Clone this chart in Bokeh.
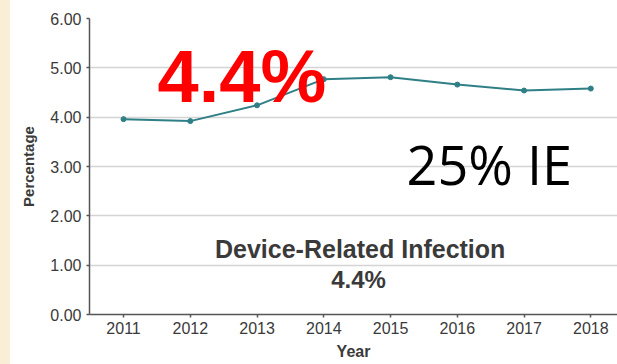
from bokeh.plotting import figure
from bokeh.models import Label, FixedTicker, NumeralTickFormatter, Range1d, Div
from bokeh.layouts import row
from bokeh.embed import file_html
from bokeh.resources import INLINE

years = [2011, 2012, 2013, 2014, 2015, 2016, 2017, 2018]
percentage = [3.96, 3.92, 4.24, 4.77, 4.81, 4.66, 4.54, 4.58]
y_ticks = [0, 1, 2, 3, 4, 5, 6]
big_label = "4.4%"
side_label = "25% IE"
title_text = "Device-Related Infection"
title_value = "4.4%"

TEAL = "#2f7f86"
AX = "#555555"
TXT = "#3a3a3a"
FONT = "Liberation Sans"

p = figure(width=607, height=364, output_backend="svg", toolbar_location=None,
           x_range=Range1d(2010.49, 2018.40), y_range=Range1d(0, 6),
           min_border_left=79, min_border_right=0, min_border_top=18, min_border_bottom=50,
           margin=0)
p.outline_line_color = None
p.background_fill_color = "white"
p.border_fill_color = "white"

p.xgrid.grid_line_color = None
p.ygrid.grid_line_color = "#d4d4d4"
p.ygrid.grid_line_width = 1.5

p.yaxis.ticker = FixedTicker(ticks=y_ticks)
p.yaxis.formatter = NumeralTickFormatter(format="0.00")
p.xaxis.ticker = FixedTicker(ticks=years)

for ax in (p.xaxis, p.yaxis):
    ax.axis_line_color = AX
    ax.axis_line_width = 1.5
    ax.major_tick_line_color = AX
    ax.major_tick_line_width = 1.5
    ax.major_tick_out = 3
    ax.major_tick_in = 0
    ax.minor_tick_line_color = None
    ax.major_label_text_font = FONT
    ax.major_label_text_font_size = "16px"
    ax.major_label_text_color = TXT
    ax.axis_label_text_font = FONT
    ax.axis_label_text_font_style = "bold"
    ax.axis_label_text_font_size = "15px"
    ax.axis_label_text_color = TXT
    ax.major_label_standoff = 5

p.yaxis.axis_label = "Percentage"
p.yaxis.axis_label_standoff = 10
p.xaxis.axis_label = "Year"
p.xaxis.major_label_standoff = 4
p.xaxis.axis_label_standoff = 6
p.xaxis.axis_label_text_font_size = "16px"

p.line(years, percentage, line_color=TEAL, line_width=2)
p.scatter(years, percentage, size=5, fill_color=TEAL, line_color=TEAL)

p.add_layout(Label(x=2011.51, y=4.824, text=big_label, text_font=FONT,
                   text_font_style="bold", text_font_size="74px", text_color="#ff0000",
                   text_align="left", text_baseline="alphabetic"))
p.add_layout(Label(x=2015.24, y=3.06, text=side_label, text_font="Open Sans",
                   text_font_size="54px", text_color="#000000",
                   text_align="left", text_baseline="alphabetic"))
p.add_layout(Label(x=2014.545, y=1.33, text=title_text, text_font=FONT,
                   text_font_style="bold", text_font_size="25px", text_color=TXT,
                   text_align="center", text_baseline="alphabetic"))
p.add_layout(Label(x=2014.52, y=0.70, text=title_value, text_font=FONT,
                   text_font_style="bold", text_font_size="24px", text_color=TXT,
                   text_align="center", text_baseline="alphabetic"))

strip = Div(width=10, height=364, margin=0, styles={"background-color": "#fbeed6"})
layout = row(strip, p, spacing=0, margin=0)

open("out.html", "w").write(file_html(layout, INLINE))
